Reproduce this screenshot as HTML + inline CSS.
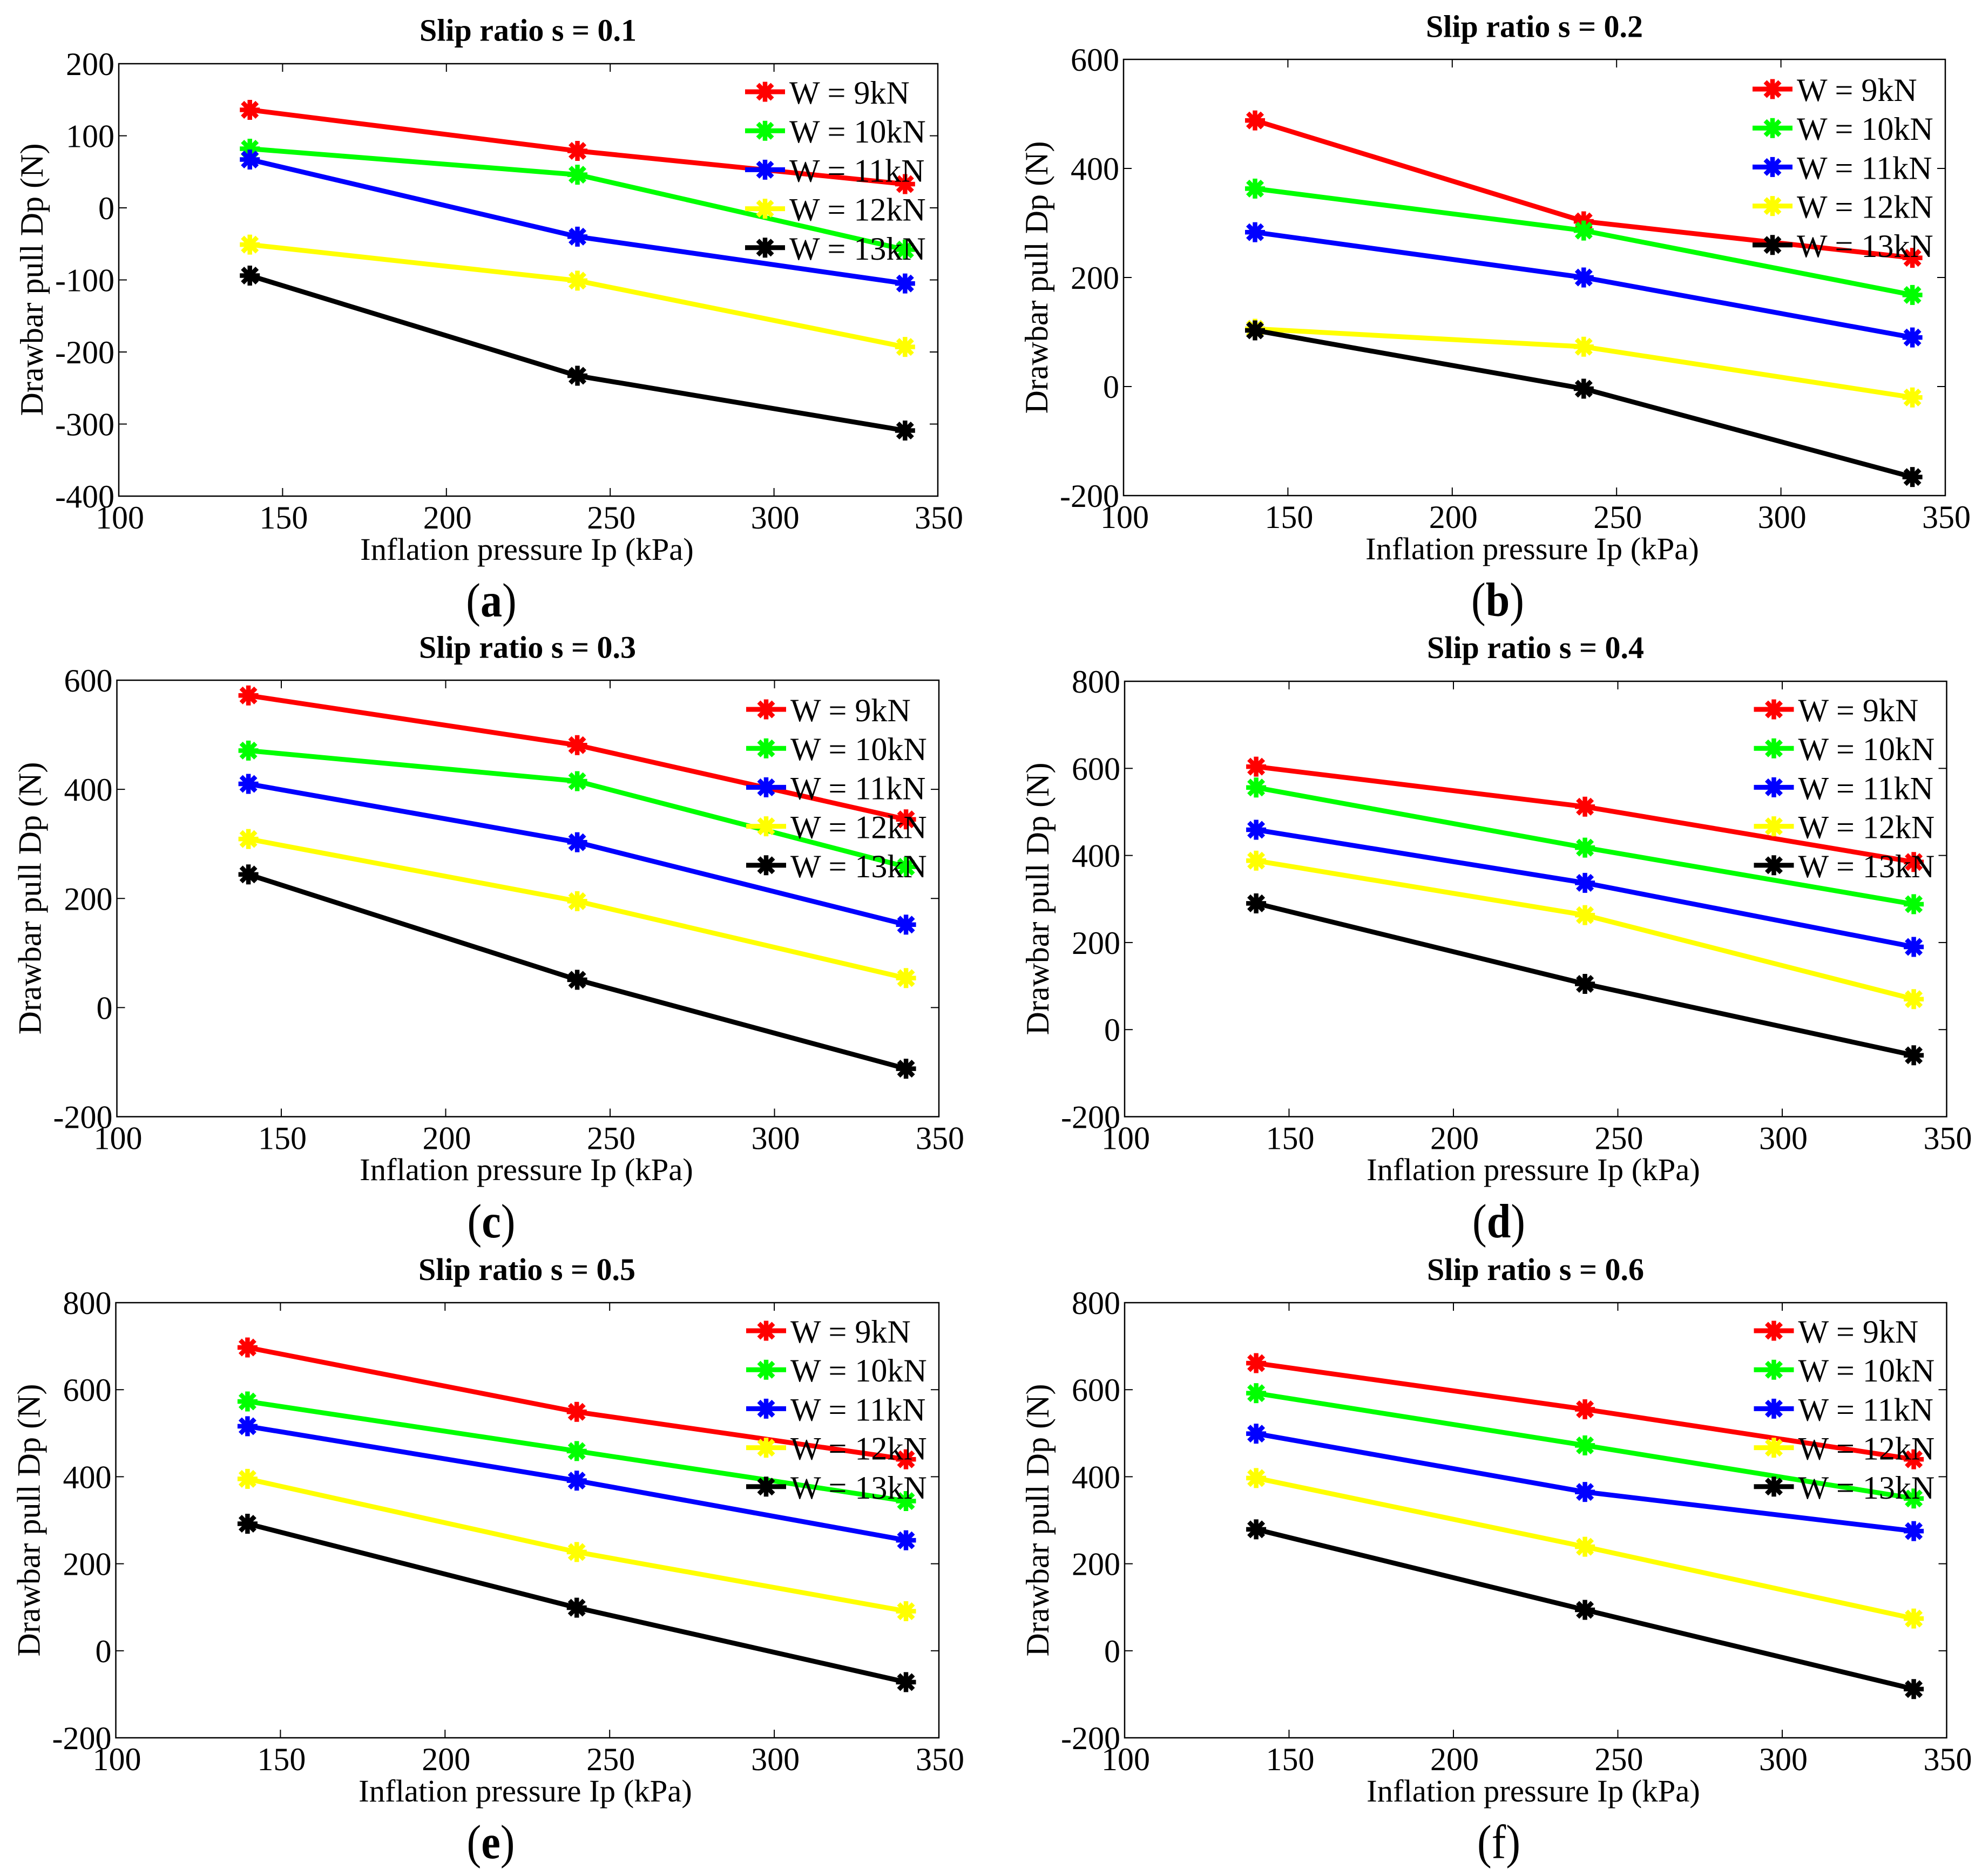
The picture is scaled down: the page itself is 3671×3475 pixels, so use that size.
<!DOCTYPE html>
<html>
<head>
<meta charset="utf-8">
<title>Drawbar pull vs inflation pressure</title>
<style>
html,body{margin:0;padding:0;background:#fff;}
svg{display:block;}
text{font-family:"Liberation Serif",serif;fill:#000;}
.title{font-size:58px;font-weight:bold;text-anchor:middle;}
.xlabel{font-size:58.7px;text-anchor:middle;}
.ylabel{font-size:60px;text-anchor:middle;}
.plabel{font-size:89px;text-anchor:middle;}
.plabel .b{font-weight:bold;}
</style>
</head>
<body>
<svg id="figure" xmlns="http://www.w3.org/2000/svg" width="3671" height="3475" viewBox="0 0 3671 3475">
<rect x="0" y="0" width="3671" height="3475" fill="#fff"/>
<g id="plots"></g>

<text class="title" x="978" y="75.5">Slip ratio s = 0.1</text>
<text class="title" x="2842" y="68.5">Slip ratio s = 0.2</text>
<text class="title" x="977" y="1218.5">Slip ratio s = 0.3</text>
<text class="title" x="2844" y="1219">Slip ratio s = 0.4</text>
<text class="title" x="976" y="2371">Slip ratio s = 0.5</text>
<text class="title" x="2844" y="2371">Slip ratio s = 0.6</text>

<text class="xlabel" x="976" y="1037">Inflation pressure Ip (kPa)</text>
<text class="xlabel" x="2838" y="1036">Inflation pressure Ip (kPa)</text>
<text class="xlabel" x="975" y="2186">Inflation pressure Ip (kPa)</text>
<text class="xlabel" x="2840" y="2186">Inflation pressure Ip (kPa)</text>
<text class="xlabel" x="973" y="3337">Inflation pressure Ip (kPa)</text>
<text class="xlabel" x="2840" y="3337">Inflation pressure Ip (kPa)</text>

<text class="ylabel" transform="translate(79,518) rotate(-90)">Drawbar pull Dp (N)</text>
<text class="ylabel" transform="translate(1940,514) rotate(-90)">Drawbar pull Dp (N)</text>
<text class="ylabel" transform="translate(75.5,1664) rotate(-90)">Drawbar pull Dp (N)</text>
<text class="ylabel" transform="translate(1942,1665) rotate(-90)">Drawbar pull Dp (N)</text>
<text class="ylabel" transform="translate(73.5,2816) rotate(-90)">Drawbar pull Dp (N)</text>
<text class="ylabel" transform="translate(1942,2816) rotate(-90)">Drawbar pull Dp (N)</text>

<text class="plabel" transform="translate(910,1142) scale(.9,1)">(<tspan class="b">a</tspan>)</text>
<text class="plabel" transform="translate(2774,1141) scale(.9,1)">(<tspan class="b">b</tspan>)</text>
<text class="plabel" transform="translate(910,2292) scale(.9,1)">(<tspan class="b">c</tspan>)</text>
<text class="plabel" transform="translate(2776,2292) scale(.9,1)">(<tspan class="b">d</tspan>)</text>
<text class="plabel" transform="translate(909,3442) scale(.9,1)">(<tspan class="b">e</tspan>)</text>
<text class="plabel" transform="translate(2776,3442) scale(.9,1)">(<tspan>f</tspan>)</text>
</svg>

<script>
// ---- data ----
const pressures = [140, 240, 340];
const xTickValues = [100, 150, 200, 250, 300, 350];
const loadLabels = ['W = 9kN', 'W = 10kN', 'W = 11kN', 'W = 12kN', 'W = 13kN'];
const panelIds = ['a', 'b', 'c', 'd', 'e', 'f'];

// Each series: one [140, 240, 340 kPa] triple per panel a..f
const dpW9  = [[136, 79, 33],   [488, 303, 236], [572, 481, 345], [604, 512, 385], [697, 549, 440], [661, 555, 440]];
const dpW10 = [[82, 46, -58],   [363, 286, 168], [471, 415, 258], [556, 418, 288], [573, 459, 344], [592, 472, 350]];
const dpW11 = [[67, -40, -105], [283, 200, 90],  [410, 303, 152], [459, 337, 190], [516, 391, 254], [499, 365, 275]];
const dpW12 = [[-51, -101, -193], [106, 73, -20], [309, 195, 54], [388, 263, 70],  [395, 227, 91],  [397, 239, 74]];
const dpW13 = [[-94, -233, -309], [103, -4, -166], [244, 51, -112], [290, 105, -59], [292, 99, -72], [279, 94, -88]];

const yTicksA = [-400, -300, -200, -100, 0, 100, 200];
const yTicksB = [-200, 0, 200, 400, 600];
const yTicksC = [-200, 0, 200, 400, 600];
const yTicksD = [-200, 0, 200, 400, 600, 800];
const yTicksE = [-200, 0, 200, 400, 600, 800];
const yTicksF = [-200, 0, 200, 400, 600, 800];

// ---- layout (not data) ----
const allSeries = [dpW9, dpW10, dpW11, dpW12, dpW13];
const allYTicks = [yTicksA, yTicksB, yTicksC, yTicksD, yTicksE, yTicksF];
const seriesColors = ['#ff0000', '#00ff00', '#0000ff', '#ffff00', '#000000'];
const boxes = [
  {l: 220,   r: 1737,   t: 118,  b: 919,    lg: 170},
  {l: 2081,  r: 3603,   t: 110,  b: 918,    lg: 165},
  {l: 216.5, r: 1739,   t: 1260, b: 2068.5, lg: 1314},
  {l: 2083,  r: 3605.5, t: 1262, b: 2068.5, lg: 1314},
  {l: 214.5, r: 1739,   t: 2413, b: 3219,   lg: 2465},
  {l: 2083,  r: 3605.5, t: 2413, b: 3219,   lg: 2465}
];
const NS = 'http://www.w3.org/2000/svg';
const root = document.getElementById('plots');

function svgEl(tag, attrs, parent) {
  const el = document.createElementNS(NS, tag);
  for (const k in attrs) el.setAttribute(k, attrs[k]);
  parent.appendChild(el);
  return el;
}

function drawMarker(parent, cx, cy, color, name) {
  const g = svgEl('g', {stroke: color, 'stroke-width': 8.5, fill: 'none'}, parent);
  
  
  const R = 18.5, D = 13.5;
  svgEl('line', {x1: cx - R, y1: cy, x2: cx + R, y2: cy}, g);
  svgEl('line', {x1: cx, y1: cy - R, x2: cx, y2: cy + R}, g);
  svgEl('line', {x1: cx - D, y1: cy - D, x2: cx + D, y2: cy + D}, g);
  svgEl('line', {x1: cx - D, y1: cy + D, x2: cx + D, y2: cy - D}, g);
}

function drawPanel(i) {
  const box = boxes[i];
  const id = panelIds[i];
  const yTicks = allYTicks[i];
  const yMin = yTicks[0];
  const yMax = yTicks[yTicks.length - 1];
  const xMin = xTickValues[0];
  const xMax = xTickValues[xTickValues.length - 1];
  const xScale = function (v) { return box.l + (v - xMin) / (xMax - xMin) * (box.r - box.l); };
  const yScale = function (v) { return box.b - (v - yMin) / (yMax - yMin) * (box.b - box.t); };

  const panel = svgEl('g', {}, root);
  
  

  const frame = svgEl('rect', {x: box.l, y: box.t, width: box.r - box.l, height: box.b - box.t, fill: 'none', stroke: '#000', 'stroke-width': 2.5}, panel);
  
  

  xTickValues.forEach(function (v) {
    const x = xScale(v);
    const tb = svgEl('line', {x1: x, y1: box.b, x2: x, y2: box.b - 15, stroke: '#000', 'stroke-width': 2}, panel);
    
    
    const tt = svgEl('line', {x1: x, y1: box.t, x2: x, y2: box.t + 15, stroke: '#000', 'stroke-width': 2}, panel);
    
    
    const lab = svgEl('text', {x: x + 2, y: box.b + 60, 'font-size': 60, 'text-anchor': 'middle'}, panel);
    
    
    lab.textContent = String(v);
  });

  yTicks.forEach(function (v) {
    const y = yScale(v);
    const tl = svgEl('line', {x1: box.l, y1: y, x2: box.l + 15, y2: y, stroke: '#000', 'stroke-width': 2}, panel);
    
    
    const tr = svgEl('line', {x1: box.r, y1: y, x2: box.r - 15, y2: y, stroke: '#000', 'stroke-width': 2}, panel);
    
    
    const lab = svgEl('text', {x: box.l - 8, y: y + 21, 'font-size': 60, 'text-anchor': 'end'}, panel);
    
    
    lab.textContent = String(v);
  });

  allSeries.forEach(function (series, s) {
    const values = series[i];
    const color = seriesColors[s];
    const pts = values.map(function (v, k) { return xScale(pressures[k]) + ',' + yScale(v); }).join(' ');
    const line = svgEl('polyline', {points: pts, fill: 'none', stroke: color, 'stroke-width': 9, 'stroke-linejoin': 'miter'}, panel);
    
    
    values.forEach(function (v, k) {
      drawMarker(panel, xScale(pressures[k]), yScale(v), color, 'series-point');
    });
  });

  const legend = svgEl('g', {}, panel);
  
  
  loadLabels.forEach(function (label, s) {
    const y = box.lg + s * 72.2;
    const color = seriesColors[s];
    const entry = svgEl('g', {}, legend);
    
    
    svgEl('line', {x1: box.r - 357, y1: y, x2: box.r - 283, y2: y, stroke: color, 'stroke-width': 9}, entry);
    drawMarker(entry, box.r - 320, y, color, 'legend-marker');
    const t = svgEl('text', {x: box.r - 275, y: y + 22, 'font-size': 60}, entry);
    
    
    t.textContent = label;
  });
}

panelIds.forEach(function (id, i) { drawPanel(i); });
</script>
</body>
</html>
